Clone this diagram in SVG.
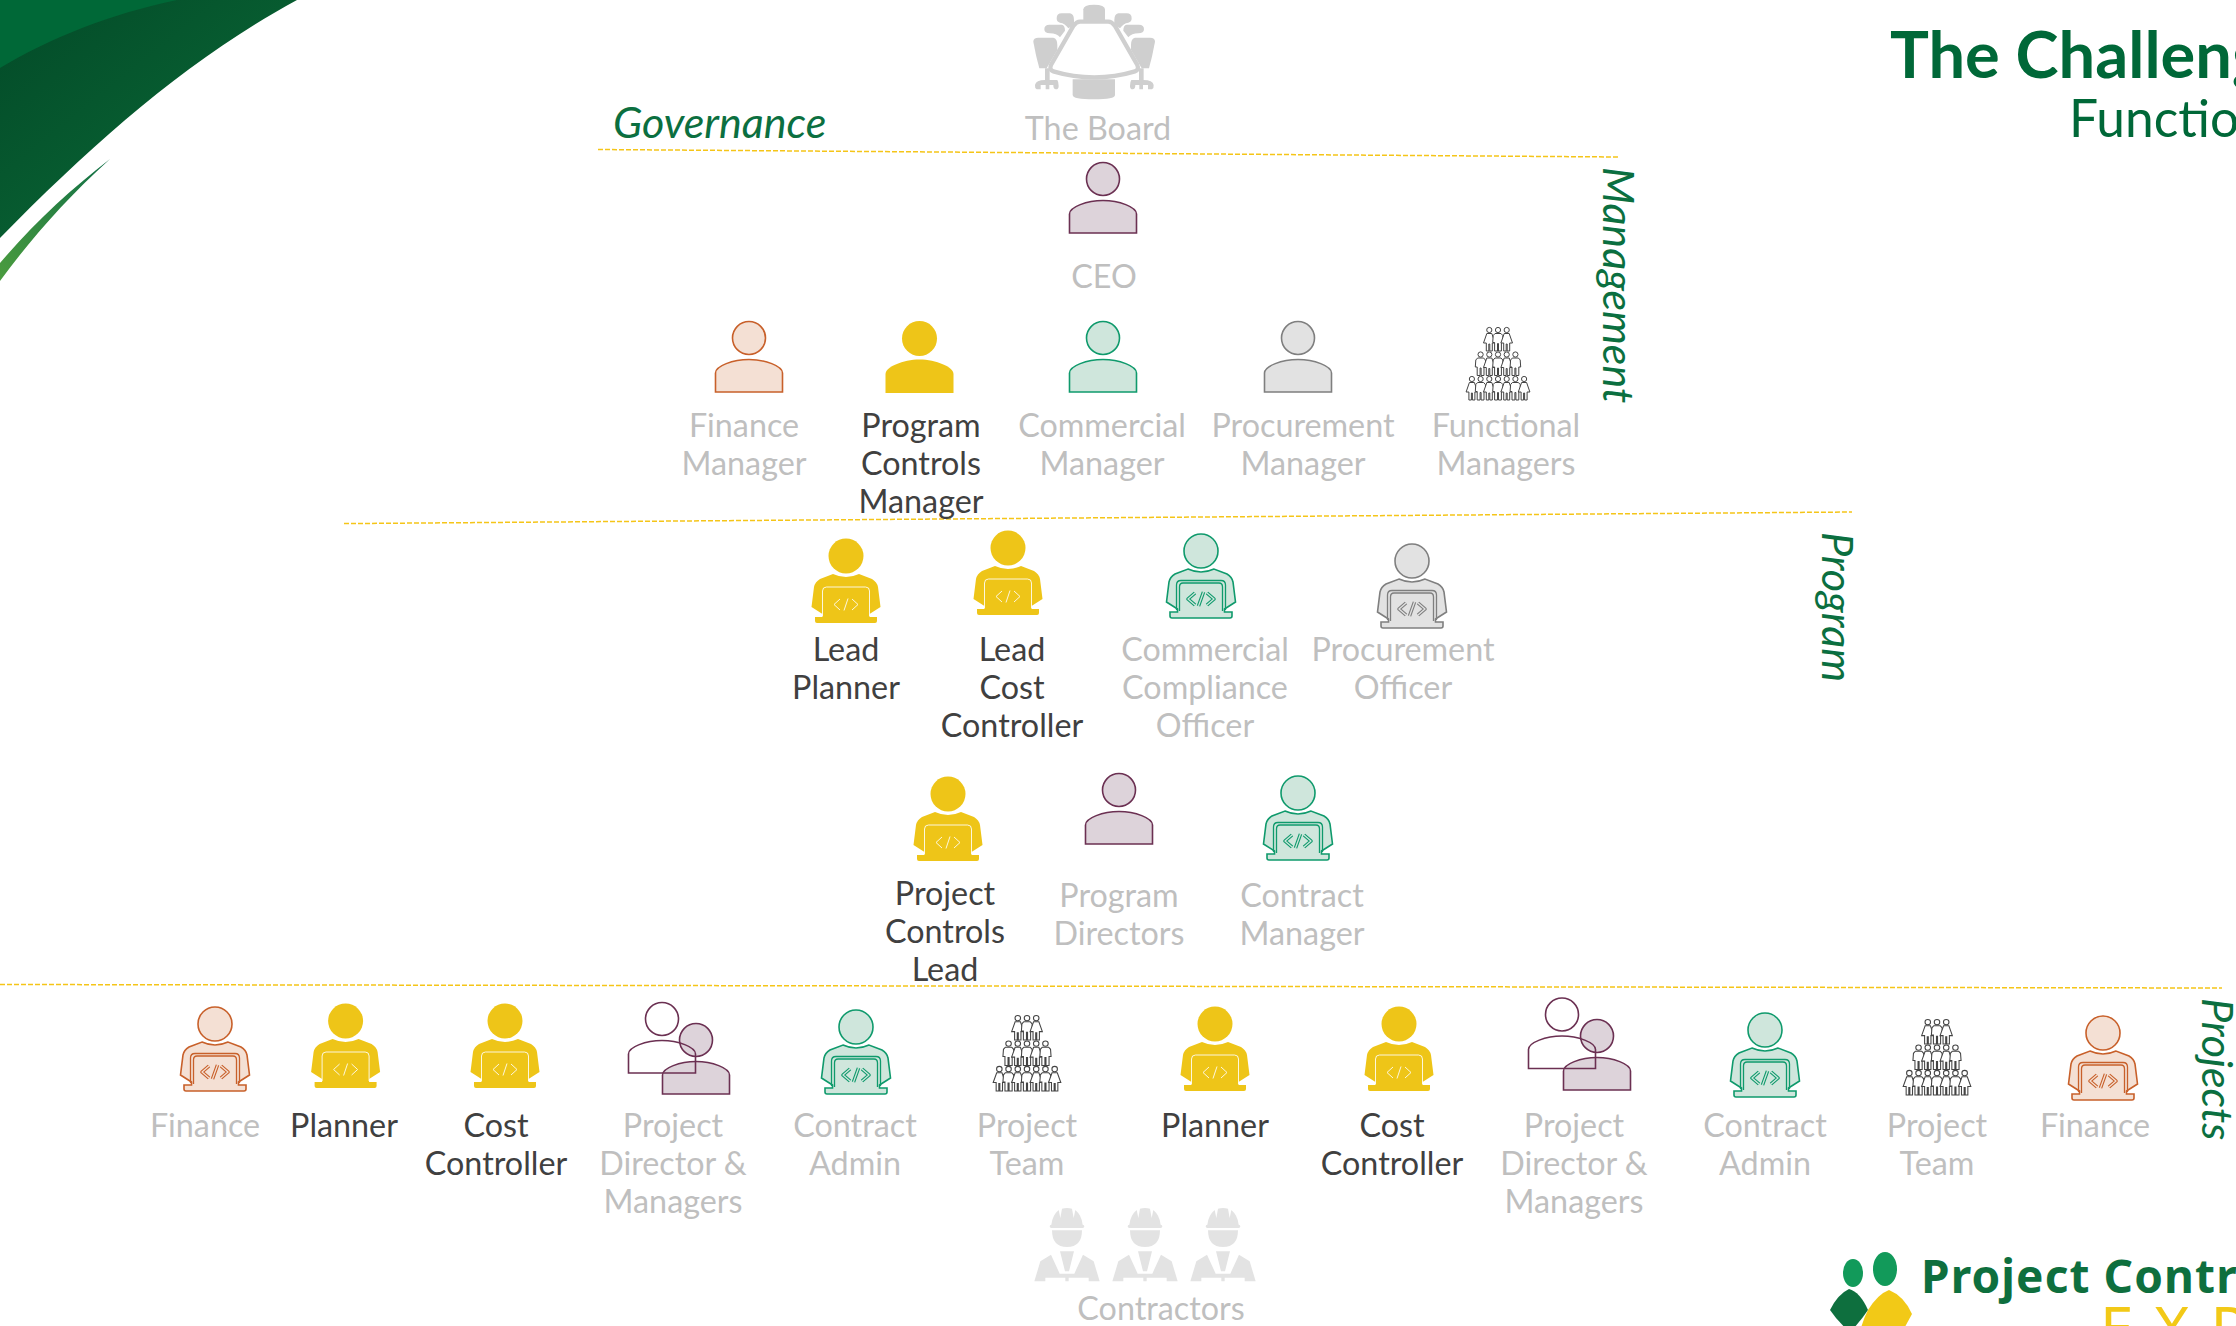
<svg xmlns="http://www.w3.org/2000/svg" width="2236" height="1326" viewBox="0 0 2236 1326">
<style>
text{font-family:Lato,"Liberation Sans",sans-serif}
.t{font-size:32.3px;fill:#bfbfbf;text-anchor:middle;transform:translateY(1.3px)}
.d{fill:#404040}
.lv{font-size:43px;font-style:italic;fill:#0b6f40}
.sep{fill:none;stroke:#f5c518;stroke-width:1.5;stroke-dasharray:5 2}
.or{--f:#f4e0d4;--s:#c8602a}
.gn{--f:#cfe6dc;--s:#0f9a6c}
.gy{--f:#e2e2e2;--s:#7f7f7f}
.pu{--f:#ddd3da;--s:#6b3052}
.no{--f:none;--s:#6b3052}
.sh{fill:var(--f);stroke:var(--s);stroke-width:1.6}
.ln{fill:none;stroke:var(--s);stroke-width:1.3}
.th{fill:none;stroke:var(--f);stroke-width:1.3;stroke-linejoin:round}
.fg{fill:#fff;stroke:#444;stroke-width:1}
.w{fill:#e3e3e3}
.bd{fill:#cfcfcf}
</style>
<defs>
<linearGradient id="cornerDark" x1="0" y1="0" x2="1" y2="1"><stop offset="0" stop-color="#034a28"/><stop offset="1" stop-color="#0b6d38"/></linearGradient>
<linearGradient id="sliver" x1="1" y1="0" x2="0" y2="1"><stop offset="0" stop-color="#0f6e45"/><stop offset="1" stop-color="#4b9c3f"/></linearGradient>
<g id="person"><circle class="sh" cx="0" cy="17" r="16.5"/><path class="sh" d="M-33.5 71V52C-33.500 45-16 38.500 0 38.500S33.500 45 33.500 52V71Z"/></g>
<g id="coderSolid"><circle cx="0" cy="18" r="17.500" fill="#eec518"/><path fill="#eec518" d="M-13 36Q0 42 13 36L26 41Q31 44 32 49L34.500 69L23.500 76V79H31V83Q31 85 29 85H-29Q-31 85-31 83V79H-23.500V76L-34.500 69L-32 49Q-31 44-26 41Z"/><path d="M-23.500 78V53Q-23.500 49-19.500 49H19.500Q23.500 49 23.500 53V78" fill="none" stroke="#fff" stroke-opacity=".85" stroke-width="1"/><path d="M-6 61L-12 66.500L-6 72M6 61L12 66.500L6 72M2 60.500L-2 72.500" fill="none" stroke="#fff" stroke-opacity=".85" stroke-width="1"/></g>
<g id="coderLine"><circle class="sh" cx="0" cy="18" r="17"/><path class="sh" d="M-13 36Q0 42 13 36L26 41Q31 44 32 49L34.500 69L23.500 76V79H31V83Q31 85 29 85H-29Q-31 85-31 83V79H-23.500V76L-34.500 69L-32 49Q-31 44-26 41Z"/><path class="ln" d="M-24.500 77V52Q-24.500 47.500-20 47.500H20Q24.500 47.500 24.500 52V77M-21.500 78V54Q-21.500 50-18 50H18Q21.500 50 21.500 54V78"/><path d="M-6 60L-13 66L-6 72M6 60L13 66L6 72M2.500 59L-2.500 73" fill="none" stroke="var(--s)" stroke-width="3.600" stroke-linejoin="round"/><path class="th" d="M-6 60L-13 66L-6 72M6 60L13 66L6 72M2.500 59L-2.500 73"/></g>
<path id="fm" class="fg" d="M-3 6.500H3L4.800 8.500L5.300 15.500H3.400V24H.5V16.500H-.5V24H-3.400V15.500H-5.300L-4.800 8.500Z"/>
<path id="fw" class="fg" d="M-2.500 6.500H2.500L5.800 16H3V24H.5V17H-.5V24H-3V16H-5.800Z"/>
<g id="fig1"><circle class="fg" cy="3" r="2.600"/><use href="#fm"/></g>
<g id="fig2"><circle class="fg" cy="3" r="2.600"/><use href="#fw"/></g>
<g id="crowd">
<use href="#fig2" x="-8.700"/><use href="#fig1"/><use href="#fig2" x="8.700"/>
<use href="#fig1" x="-17.400" y="24.500"/><use href="#fig2" x="-8.700" y="24.500"/><use href="#fig1" y="24.500"/><use href="#fig2" x="8.700" y="24.500"/><use href="#fig1" x="17.400" y="24.500"/>
<use href="#fig2" x="-26.100" y="49"/><use href="#fig1" x="-17.400" y="49"/><use href="#fig2" x="-8.700" y="49"/><use href="#fig1" y="49"/><use href="#fig2" x="8.700" y="49"/><use href="#fig1" x="17.400" y="49"/><use href="#fig2" x="26.100" y="49"/>
</g>
<g id="worker" class="w"><path d="M-52 55Q-52 50-47 50Q-44 22-25 6L-20 30L-15 2Q0-2 15 2L20 30L25 6Q44 22 47 50Q52 50 52 55Q52 60 47 60H-47Q-52 60-52 55Z"/><path d="M-45 67H45Q45 117 0 117Q-45 117-45 67Z"/><path d="M-21 130H21L6 190H-6Z"/><path d="M-98 220L-80 160L-48 140L-22 197H22L48 140L80 160L98 220H65V209H5V220H-5V209H-65V220Z"/></g>
</defs>

<g id="corner">
<path fill="url(#cornerDark)" d="M0 0H297C190 58 96 140 0 238Z"/>
<path fill="#006837" d="M0 0H177C110 14 50 38 0 68Z"/>
<path fill="url(#sliver)" d="M110 159C70 190 35 222 0 263V281C30 240 65 200 110 159Z"/>
</g>

<g id="connectors">
<path class="sep" d="M598 149.500L1618 157"/>
<path class="sep" d="M344 523.600L1852 512"/>
<path class="sep" d="M0 984.500L2222 988"/>
</g>

<g id="title">
<text x="1890" y="78" font-size="65" font-weight="700" fill="#006838">The Challeng</text>
<text x="2069" y="137" font-size="51.500" fill="#006838">Functio</text>
</g>

<g id="levels">
<text class="lv" x="613" y="138">Governance</text>
<text class="lv" transform="translate(1602.500 167) rotate(90)">Management</text>
<text class="lv" transform="translate(1822 532) rotate(90)">Program</text>
<text class="lv" transform="translate(2202 998) rotate(90)">Projects</text>
</g>

<g id="board">
<g transform="translate(1000 0) scale(.3333)">
<g class="bd">
<path d="M250 60V28Q250 14 282 14Q315 14 315 28V60Z"/>
<path d="M170 55Q170 40 185 40H210Q222 42 222 60V75L205 85Q195 70 180 68Q170 66 170 55Z"/>
<path d="M395 55Q395 40 380 40H355Q343 42 343 60V75L360 85Q370 70 385 68Q395 66 395 55Z"/>
<path d="M133 88Q133 74 148 74H185Q195 76 195 92L180 112Q170 100 150 100Q133 100 133 88Z"/>
<path d="M432 88Q432 74 417 74H380Q370 76 370 92L385 112Q395 100 415 100Q432 100 432 88Z"/>
<path d="M100 125Q100 113 115 113H160Q172 115 172 135V150L140 205H118Q108 170 100 125Z"/>
<path d="M465 125Q465 113 450 113H405Q393 115 393 135V150L425 205H447Q457 170 465 125Z"/>
<path d="M218 238H345V285Q345 298 282 298Q218 298 218 285Z"/>
<path d="M135 205H149V240H172Q176 245 176 258Q176 268 168 268Q160 268 160 255H148V268H137V255H122V268H110Q104 265 105 255Q108 240 135 240Z"/>
<path d="M431 205H417V240H394Q390 245 390 258Q390 268 398 268Q406 268 406 255H418V268H429V255H444V268H456Q462 265 461 255Q458 240 431 240Z"/>
</g>
<path d="M240 65H325Q335 65 345 78L412 195Q418 210 405 214Q345 232 283 232Q220 232 160 214Q147 210 153 195L220 78Q230 65 240 65Z" fill="#fff" stroke="#cfcfcf" stroke-width="13"/>
</g>
<text class="t" x="1098" y="139">The Board</text>
</g>

<g id="ceo"><use href="#person" class="pu" x="1103" y="162"/><text class="t" x="1104" y="287">CEO</text></g>
<g id="finance-manager"><use href="#person" class="or" x="749" y="321"/><text class="t" x="744" y="436">Finance<tspan x="744" dy="38">Manager</tspan></text></g>
<g id="program-controls-manager"><circle cx="919.500" cy="338.500" r="17.500" fill="#eec518"/><path fill="#eec518" d="M885.500 393V374C885.500 367 903 359.500 919.500 359.500S953.500 367 953.500 374V393Z"/><text class="t d" x="921" y="436">Program<tspan x="921" dy="38">Controls</tspan><tspan x="921" dy="38">Manager</tspan></text></g>
<g id="commercial-manager"><use href="#person" class="gn" x="1103" y="321"/><text class="t" x="1102" y="436">Commercial<tspan x="1102" dy="38">Manager</tspan></text></g>
<g id="procurement-manager"><use href="#person" class="gy" x="1298" y="321"/><text class="t" x="1303" y="436">Procurement<tspan x="1303" dy="38">Manager</tspan></text></g>
<g id="functional-managers"><use href="#crowd" x="1498" y="327"/><text class="t" x="1506" y="436">Functional<tspan x="1506" dy="38">Managers</tspan></text></g>

<g id="lead-planner"><use href="#coderSolid" x="846" y="538"/><text class="t d" x="846" y="660">Lead<tspan x="846" dy="38">Planner</tspan></text></g>
<g id="lead-cost-controller"><use href="#coderSolid" x="1008" y="530"/><text class="t d" x="1012" y="660">Lead<tspan x="1012" dy="38">Cost</tspan><tspan x="1012" dy="38">Controller</tspan></text></g>
<g id="commercial-compliance-officer"><use href="#coderLine" class="gn" x="1201" y="533"/><text class="t" x="1205" y="660">Commercial<tspan x="1205" dy="38">Compliance</tspan><tspan x="1205" dy="38">Officer</tspan></text></g>
<g id="procurement-officer"><use href="#coderLine" class="gy" x="1412" y="543"/><text class="t" x="1403" y="660">Procurement<tspan x="1403" dy="38">Officer</tspan></text></g>

<g id="project-controls-lead"><use href="#coderSolid" x="948" y="776"/><text class="t d" x="945" y="904">Project<tspan x="945" dy="38">Controls</tspan><tspan x="945" dy="38">Lead</tspan></text></g>
<g id="program-directors"><use href="#person" class="pu" x="1119" y="773"/><text class="t" x="1119" y="906">Program<tspan x="1119" dy="38">Directors</tspan></text></g>
<g id="contract-manager"><use href="#coderLine" class="gn" x="1298" y="775"/><text class="t" x="1302" y="906">Contract<tspan x="1302" dy="38">Manager</tspan></text></g>

<g id="finance-1"><use href="#coderLine" class="or" x="215" y="1006"/><text class="t" x="205" y="1136">Finance</text></g>
<g id="planner-1"><use href="#coderSolid" x="345.600" y="1003"/><text class="t d" x="344" y="1136">Planner</text></g>
<g id="cost-controller-1"><use href="#coderSolid" x="505" y="1003"/><text class="t d" x="496" y="1136">Cost<tspan x="496" dy="38">Controller</tspan></text></g>
<g id="project-directors-1"><use href="#person" class="pu" x="696" y="1023"/><use href="#person" class="no" x="662" y="1002"/><text class="t" x="673" y="1136">Project<tspan x="673" dy="38">Director &amp;</tspan><tspan x="673" dy="38">Managers</tspan></text></g>
<g id="contract-admin-1"><use href="#coderLine" class="gn" x="856" y="1009"/><text class="t" x="855" y="1136">Contract<tspan x="855" dy="38">Admin</tspan></text></g>
<g id="project-team-1"><use href="#crowd" transform="translate(1027 1015) scale(1.060 1.040)"/><text class="t" x="1027" y="1136">Project<tspan x="1027" dy="38">Team</tspan></text></g>
<g id="planner-2"><use href="#coderSolid" x="1215" y="1006"/><text class="t d" x="1215" y="1136">Planner</text></g>
<g id="cost-controller-2"><use href="#coderSolid" x="1399" y="1006"/><text class="t d" x="1392" y="1136">Cost<tspan x="1392" dy="38">Controller</tspan></text></g>
<g id="project-directors-2"><use href="#person" class="pu" x="1597" y="1019"/><use href="#person" class="no" x="1562" y="997.500"/><text class="t" x="1574" y="1136">Project<tspan x="1574" dy="38">Director &amp;</tspan><tspan x="1574" dy="38">Managers</tspan></text></g>
<g id="contract-admin-2"><use href="#coderLine" class="gn" x="1765" y="1012"/><text class="t" x="1765" y="1136">Contract<tspan x="1765" dy="38">Admin</tspan></text></g>
<g id="project-team-2"><use href="#crowd" transform="translate(1937 1019) scale(1.060 1.040)"/><text class="t" x="1937" y="1136">Project<tspan x="1937" dy="38">Team</tspan></text></g>
<g id="finance-2"><use href="#coderLine" class="or" x="2103" y="1015"/><text class="t" x="2095" y="1136">Finance</text></g>

<g id="contractors">
<use href="#worker" transform="translate(1067 1208) scale(.3333)"/>
<use href="#worker" transform="translate(1145 1208) scale(.3333)"/>
<use href="#worker" transform="translate(1223 1208) scale(.3333)"/>
<text class="t" x="1161" y="1319">Contractors</text>
</g>

<g id="logo">
<ellipse cx="1853" cy="1273" rx="10" ry="14" fill="#129a5a"/>
<ellipse cx="1885" cy="1269" rx="12" ry="17" fill="#129a5a"/>
<path fill="#0e6f3e" d="M1849 1289Q1860 1292 1868 1310Q1860 1322 1850 1332Q1838 1322 1830 1310Q1838 1294 1849 1289Z"/>
<path fill="#f2c917" d="M1889 1290Q1904 1296 1912 1314L1900 1336H1860Q1860 1326 1868 1310Q1878 1294 1889 1290Z"/>
<text x="1921" y="1293" font-size="46" font-weight="700" letter-spacing="1.100" fill="#0e6f3e" style='font-family:"Noto Sans",sans-serif'>Project Contr</text>
<text x="2100" y="1350" font-size="60" fill="#f2c917" letter-spacing="21" style='font-family:"Noto Sans",sans-serif'>EXP</text>
</g>
</svg>
